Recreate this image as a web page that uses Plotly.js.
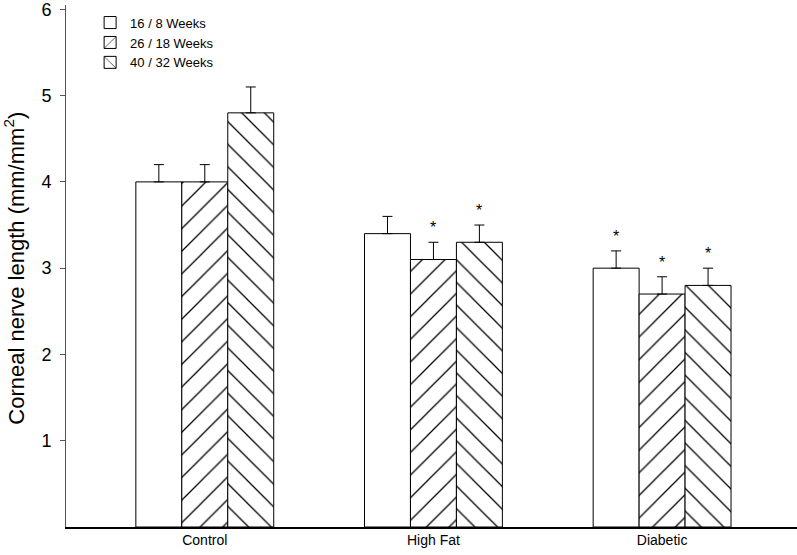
<!DOCTYPE html>
<html><head><meta charset="utf-8">
<script src="https://cdn.plot.ly/plotly-3.0.1.min.js"></script>
<style>body{margin:0;background:#fff}#chart{width:797px;height:555px}</style>
</head><body><div id="chart"></div>
<script>
const categories = ["Control", "High Fat", "Diabetic"];
const seriesNames = ["16 / 8 Weeks", "26 / 18 Weeks", "40 / 32 Weeks"];
const values16 = [4.0, 3.4, 3.0];
const values26 = [4.0, 3.1, 2.7];
const values40 = [4.8, 3.3, 2.8];
const err16 = [0.2, 0.2, 0.2];
const err26 = [0.2, 0.2, 0.2];
const err40 = [0.3, 0.2, 0.2];
const sig16 = [false, false, true];
const sig26 = [false, true, true];
const sig40 = [false, true, true];
const yTicks = [1, 2, 3, 4, 5, 6];

const allVals = [values16, values26, values40];
const allErr = [err16, err26, err40];
const allSig = [sig16, sig26, sig40];
const shapes = ["", "/", "\\"];

const traces = allVals.map((v, i) => ({
  type: "bar",
  name: seriesNames[i],
  x: categories,
  y: v,
  marker: {
    color: "white",
    line: {color: "black", width: 1},
    pattern: {shape: shapes[i], fgcolor: "black", bgcolor: "white", size: 16, solidity: 0.08}
  },
  error_y: {type: "data", symmetric: false, array: allErr[i], arrayminus: v.map(() => 0),
            color: "black", thickness: 1, width: 5}
}));

const barW = 0.2;
const annotations = [];
allSig.forEach((s, i) => {
  s.forEach((flag, j) => {
    if (flag) {
      annotations.push({
        x: j + (i - 1) * barW, y: allVals[i][j] + allErr[i][j],
        xref: "x", yref: "y", text: "*", showarrow: false,
        yanchor: "bottom", yshift: 4,
        font: {family: "Liberation Sans, Arial", size: 16, color: "black"}
      });
    }
  });
});
annotations.push({
  xref: "paper", yref: "paper", x: -0.071, y: 0.495, xanchor: "center", yanchor: "middle",
  textangle: -90, showarrow: false,
  text: "Corneal nerve length (mm/mm<sup>2</sup>)",
  font: {family: "Liberation Sans, Arial", size: 22, color: "black"}
});

const layout = {
  width: 797, height: 555,
  margin: {l: 66, r: 0, t: 5, b: 28},
  paper_bgcolor: "white", plot_bgcolor: "white",
  font: {family: "Liberation Sans, Arial", color: "black"},
  barmode: "group", bargap: 0.397, bargroupgap: 0,
  showlegend: true,
  legend: {x: 0.033, y: 0.995, xanchor: "left", yanchor: "top",
           font: {size: 13}, bgcolor: "rgba(0,0,0,0)", tracegroupgap: 0},
  xaxis: {type: "category", range: [-0.607, 2.59], showline: true, linecolor: "black", linewidth: 1.5,
          ticks: "", showgrid: false, zeroline: false, tickfont: {size: 14}},
  yaxis: {range: [0, 6.05], tickvals: yTicks, ticks: "outside", ticklen: 5, tickcolor: "#555",
          showline: true, linecolor: "#555", linewidth: 1, showgrid: false, zeroline: false,
          tickfont: {size: 18}, ticklabelstandoff: 5, ticklabeloverflow: "allow"},
  annotations: annotations
};

Plotly.newPlot("chart", traces, layout, {displayModeBar: false, staticPlot: true});
</script></body></html>
